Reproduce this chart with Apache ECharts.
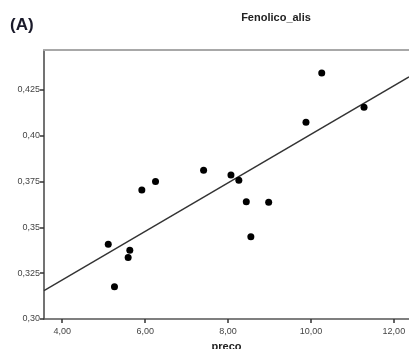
<!DOCTYPE html>
<html>
<head>
<meta charset="utf-8">
<script src="https://cdn.jsdelivr.net/npm/echarts@6/dist/echarts.min.js"></script>
<style>html,body{margin:0;padding:0;background:#fff}#c{width:409px;height:349px}</style>
</head>
<body>
<div id="c"></div>
<script>
const precoValues = [5.11, 5.26, 5.63, 5.59, 5.92, 6.25, 7.41, 8.07, 8.26, 8.44, 8.98, 8.55, 9.88, 10.26, 11.28];
const fenolicoValues = [0.3408, 0.3176, 0.3375, 0.3335, 0.3704, 0.3750, 0.3812, 0.3786, 0.3757, 0.3640, 0.3637, 0.3449, 0.4074, 0.4343, 0.4156];
const fitX = [3.56, 12.365];
const fitY = [0.3155, 0.4321];
const xTicks = [4, 6, 8, 10, 12];
const xTickLabels = ['4,00', '6,00', '8,00', '10,00', '12,00'];
const yTicks = [0.30, 0.325, 0.35, 0.375, 0.40, 0.425];
const yTickLabels = ['0,30', '0,325', '0,35', '0,375', '0,40', '0,425'];

const chart = echarts.init(document.getElementById('c'));
const font = 'Liberation Sans, Arial, sans-serif';
chart.setOption({
  animation: false,
  graphic: [
    {type: 'text', left: 10, top: 17, style: {text: '(A)', font: 'bold 17px ' + font, fill: '#1a1a2a'}},
    {type: 'text', x: 276, y: 18, style: {text: 'Fenolico_alis', font: 'bold 11px ' + font, fill: '#222', align: 'center', verticalAlign: 'middle'}}
  ],
  grid: {left: 44, top: 50, bottom: 30, right: 0, containLabel: false, outerBoundsMode: 'none'},
  xAxis: [{
    type: 'value', min: 3.56, max: 12.365,
    name: 'preco', nameLocation: 'middle', nameGap: 22,
    nameTextStyle: {fontFamily: font, fontWeight: 'bold', fontSize: 11, color: '#222'},
    axisLine: {show: true, lineStyle: {color: '#555', width: 1.5}},
    axisTick: {show: true, customValues: xTicks, length: 4, inside: false, lineStyle: {color: '#333', width: 1.5}},
    axisLabel: {customValues: xTicks, formatter: v => xTickLabels[xTicks.indexOf(Math.round(v))] ?? '', fontFamily: font, fontSize: 9, color: '#444', margin: 8},
    splitLine: {show: false}
  }, {
    type: 'value', position: 'top', min: 3.56, max: 12.365,
    axisLine: {show: true, lineStyle: {color: '#a8a8a8', width: 2}},
    axisTick: {show: false}, axisLabel: {show: false}, splitLine: {show: false}
  }],
  yAxis: {
    type: 'value', min: 0.30, max: 0.4468,
    axisLine: {show: true, lineStyle: {color: '#444', width: 1.5}},
    axisTick: {show: true, customValues: yTicks, length: 4, lineStyle: {color: '#333', width: 1.5}},
    axisLabel: {customValues: yTicks, formatter: v => {
      let i = yTicks.findIndex(t => Math.abs(t - v) < 1e-6); return i >= 0 ? yTickLabels[i] : '';
    }, fontFamily: font, fontSize: 9, color: '#444', margin: 4},
    splitLine: {show: false}
  },
  series: [
    {type: 'line', data: fitX.map((x, i) => [x, fitY[i]]), symbol: 'none', lineStyle: {color: '#333', width: 1.4}, z: 2},
    {type: 'scatter', data: precoValues.map((x, i) => [x, fenolicoValues[i]]), symbolSize: 7, itemStyle: {color: '#000', opacity: 1}, z: 3}
  ]
});
</script>
</body>
</html>
